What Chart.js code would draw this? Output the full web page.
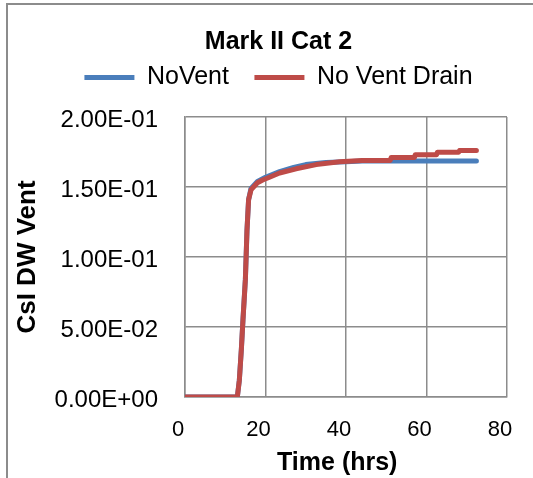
<!DOCTYPE html>
<html>
<head>
<meta charset="utf-8">
<script src="https://cdn.jsdelivr.net/npm/chart.js@4"></script>
<style>
  html, body { margin: 0; padding: 0; background: #fff; overflow: hidden; }
  #wrap { position: relative; width: 533px; height: 478px; }
  #frame { position: absolute; left: 6px; top: 3px; width: 700px; height: 700px;
           border-left: 2px solid #8c8c8c; border-top: 2px solid #8c8c8c; box-sizing: border-box; }
  canvas { position: absolute; left: 0; top: 0; }
</style>
</head>
<body>
<div id="wrap">
  <div id="frame"></div>
  <canvas id="c" width="533" height="478"></canvas>
</div>
<script>
// ---- data ----
const chartTitle = 'Mark II Cat 2';
const seriesNames = ['NoVent', 'No Vent Drain'];
const xAxisTitle = 'Time (hrs)';
const yAxisTitle = 'CsI DW Vent';
const xTickValues = [0, 20, 40, 60, 80];
const yTickValues = [0, 0.05, 0.10, 0.15, 0.20];

const noVentTime   = [0, 13.0, 13.5, 14.0, 14.4, 15.0, 15.4, 15.8, 16.4, 18.0, 20.0, 23.5, 27.0, 30.0, 35.0, 40.0, 44.0, 72.4];
const noVentValues = [0, 0, 0.012, 0.034, 0.055, 0.084, 0.119, 0.141, 0.149, 0.154, 0.157, 0.161, 0.164, 0.166, 0.1675, 0.168, 0.1686, 0.1686];

const drainTime   = [0, 13.0, 13.5, 14.0, 14.4, 15.0, 15.4, 15.8, 16.4, 18.0, 19.3, 21.0, 23.5, 27.6, 32.6, 38.4, 44.0, 51.0, 51.2, 57.0, 57.2, 62.5, 62.7, 68.0, 68.2, 72.4];
const drainValues = [0, 0, 0.012, 0.034, 0.055, 0.084, 0.119, 0.141, 0.148, 0.153, 0.155, 0.157, 0.160, 0.163, 0.166, 0.168, 0.169, 0.169, 0.171, 0.171, 0.173, 0.173, 0.1748, 0.1748, 0.176, 0.176];

const FONT = "'Liberation Sans', Arial, sans-serif";
const GRID = '#8c8c8c';
const EN = '\u2002';
const THIN = '\u2009';
const PAD_LEFT = 24;

function toPts(xs, ys) { return xs.map((x, i) => ({ x: x, y: ys[i] })); }
function fmtE(v) {
  const s = Number(v).toExponential(2);
  const [m, e] = s.split('e');
  const sign = e[0] === '-' ? '-' : '+';
  const d = e.replace(/^[+-]/, '').padStart(2, '0');
  return m + 'E' + sign + d;
}

// empty layout box that leaves a gap between the legend and the plot area
const spacerPlugin = {
  id: 'spacer',
  beforeInit(chart) {
    const box = {
      position: 'top', weight: 500, fullSize: true, options: {},
      width: 0, height: 0, top: 0, left: 0, right: 0, bottom: 0,
      isHorizontal() { return true; },
      update(maxWidth) { this.width = maxWidth; this.height = 17; return { width: this.width, height: this.height }; },
      draw() {}
    };
    Chart.layouts.addBox(chart, box);
  }
};

new Chart(document.getElementById('c'), {
  type: 'line',
  plugins: [spacerPlugin],
  data: {
    datasets: [
      { label: seriesNames[0], data: toPts(noVentTime, noVentValues),
        borderColor: '#4a7ebb', backgroundColor: '#4a7ebb', borderWidth: 5,
        pointRadius: 0, tension: 0, fill: false, order: 1,
        borderCapStyle: 'round', borderJoinStyle: 'round' },
      { label: seriesNames[1], data: toPts(drainTime, drainValues),
        borderColor: '#be4b48', backgroundColor: '#be4b48', borderWidth: 5,
        pointRadius: 0, tension: 0, fill: false, order: 0,
        borderCapStyle: 'round', borderJoinStyle: 'round' }
    ]
  },
  options: {
    responsive: false,
    animation: false,
    layout: { padding: { left: PAD_LEFT, right: 0, top: 0, bottom: 0 } },
    plugins: {
      tooltip: { enabled: false },
      title: {
        display: true, text: chartTitle, color: '#000',
        font: { family: FONT, size: 25, weight: 'bold', lineHeight: 1.2 },
        padding: { top: 27, bottom: 0 }
      },
      legend: {
        display: true,
        labels: {
          usePointStyle: true, pointStyle: 'line', pointStyleWidth: 50,
          color: '#000', font: { family: FONT, size: 25 }, padding: 8,
          sort: (a, b) => a.datasetIndex - b.datasetIndex,
          generateLabels: (chart) => {
            const items = Chart.defaults.plugins.legend.labels.generateLabels(chart);
            items.forEach(it => { if (it.datasetIndex === 0) it.text = it.text + EN + THIN; });
            return items;
          }
        }
      }
    },
    scales: {
      x: {
        type: 'linear', min: 0, max: 80,
        afterBuildTicks: (s) => { s.ticks = xTickValues.map(v => ({ value: v })); },
        afterFit: (s) => { s.height = 81; s.paddingRight = 26; },
        grid: { color: GRID, lineWidth: 1.5, drawTicks: false },
        border: { color: GRID, width: 1.5 },
        ticks: { color: '#000', font: { family: FONT, size: 22 }, padding: 20, labelOffset: -7, maxRotation: 0 },
        title: { display: true, text: xAxisTitle + EN + THIN, color: '#000',
                 font: { family: FONT, size: 25, weight: 'bold', lineHeight: 1.2 }, padding: { top: 0, bottom: 0 } }
      },
      y: {
        type: 'linear', min: 0, max: 0.2,
        afterBuildTicks: (s) => { s.ticks = yTickValues.map(v => ({ value: v })); },
        afterFit: (s) => { s.width = 185 - PAD_LEFT; },
        grid: { color: GRID, lineWidth: 1.5, drawTicks: false },
        border: { color: GRID, width: 1.5 },
        ticks: { color: '#000', font: { family: FONT, size: 24 }, padding: 27, labelOffset: 3,
                 callback: (v) => fmtE(v) },
        title: { display: true, text: yAxisTitle, color: '#000',
                 font: { family: FONT, size: 26, weight: 'bold', lineHeight: 0.3 }, padding: 0 }
      }
    }
  }
});
</script>
</body>
</html>
